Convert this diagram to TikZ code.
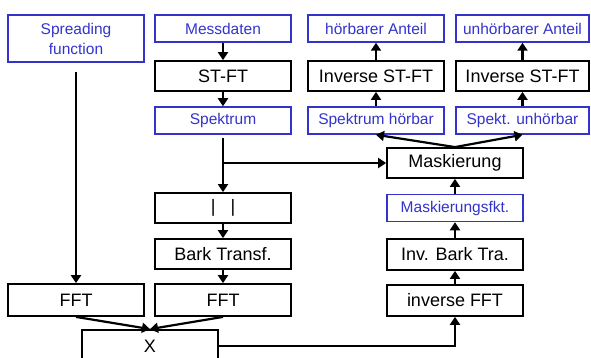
\documentclass[tikz,border=0pt]{standalone}
\usepackage{fontspec}
\setmainfont{Liberation Sans}
\usetikzlibrary{arrows.meta}
\definecolor{boxblue}{RGB}{51,51,204}
\tikzset{
  blackbox/.style={draw=black,line width=1.8pt,minimum width=136pt,minimum height=30pt,
    inner sep=0pt,font=\fontsize{18}{20}\selectfont},
  bluebox/.style={draw=boxblue,line width=1.5pt,minimum width=136pt,minimum height=27pt,
    inner sep=0pt,text=boxblue,align=center,font=\fontsize{15.5}{20}\selectfont},
  flow/.style={line width=2.2pt,-{Triangle[width=10pt,length=8pt]}},
}
\begin{document}
\begin{tikzpicture}[x=1pt,y=-1pt]
\clip (0,0) rectangle (591,358);
% linke Spalte
\node[bluebox,minimum height=47pt] (spread) at (76,38.5) {Spreading\\function};
\node[blackbox,minimum height=32pt] (fft1) at (76,300) {FFT};
% mittlere Spalte
\node[bluebox] (mess) at (223,28.5) {Messdaten};
\node[blackbox] (stft) at (223,76) {ST-FT};
\node[bluebox] (spek) at (223,120.5) {Spektrum};
\node[blackbox] (betrag) at (223,208) {|\hspace{15pt}|};
\node[blackbox] (bark) at (223,254) {Bark Transf.};
\node[blackbox,minimum height=32pt] (fft2) at (223,300) {FFT};
\node[blackbox,minimum height=32pt] (mult) at (150,346) {X};
% rechte Spalten
\node[bluebox] (hoer) at (376,28.5) {hörbarer Anteil};
\node[blackbox] (istfta) at (376,76) {Inverse ST-FT};
\node[bluebox] (spekh) at (376,120.5) {Spektrum hörbar};
\node[bluebox,minimum width=133pt] (unhoer) at (522.5,28.5) {unhörbarer Anteil};
\node[blackbox,minimum width=133pt] (istftb) at (522.5,76) {Inverse ST-FT};
\node[bluebox,minimum width=133pt] (speku) at (522.5,120.5) {Spekt. unhörbar};
\node[blackbox] (mask) at (455,163) {Maskierung};
\node[bluebox] (maskf) at (455,208) {Maskierungsfkt.};
\node[blackbox,minimum height=31pt] (ibark) at (455,254.5) {Inv. Bark Tra.};
\node[blackbox,minimum height=31pt] (ifft) at (455,300.5) {inverse FFT};
\coordinate (branch) at (223,163);
% Verbindungen
\draw[flow,shorten <=9pt] (spread) -- (fft1);
\draw[flow] (mess) -- (stft);
\draw[flow] (stft) -- (spek);
\draw[flow,shorten <=3pt] (spek) -- (betrag);
\draw[flow] (branch) -- (mask);
\draw[flow] (betrag) -- (bark);
\draw[flow] (bark) -- (fft2);
\draw[flow] (fft1.south) -- (mult.north);
\draw[flow] (fft2.south) -- (mult.north);
\draw[flow] (mult.east) -| (ifft.south);
\draw[flow] (ifft) -- (ibark);
\draw[flow] (ibark) -- (maskf);
\draw[flow] (maskf) -- (mask);
\draw[flow] (mask.north) -- (spekh.south);
\draw[flow] (mask.north) -- (speku.south);
\draw[flow] (spekh) -- (istfta);
\draw[flow] (istfta) -- (hoer);
\draw[flow] (speku) -- (istftb);
\draw[flow] (istftb) -- (unhoer);
\end{tikzpicture}
\end{document}
